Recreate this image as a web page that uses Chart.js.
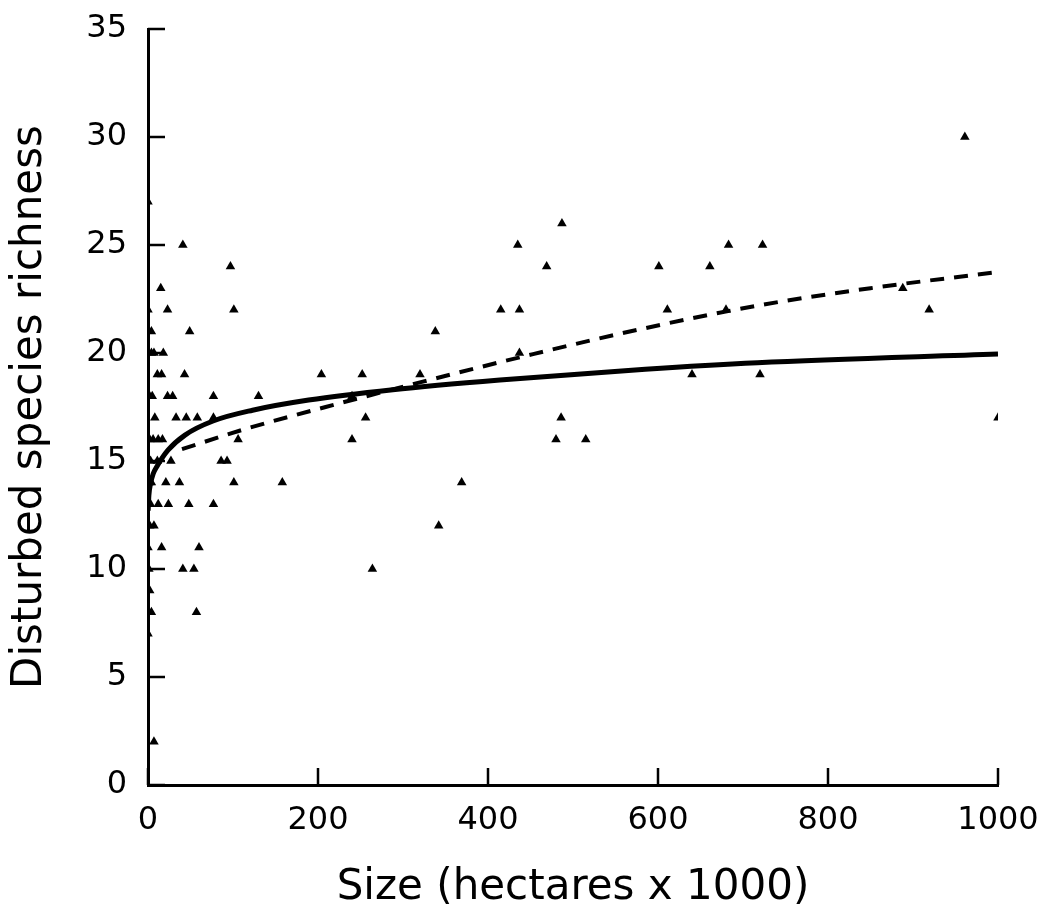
<!DOCTYPE html>
<html>
<head>
<meta charset="utf-8">
<script src="https://cdn.jsdelivr.net/npm/chart.js@4.4.1/dist/chart.umd.min.js"></script>
<style>
  html, body { margin: 0; padding: 0; background: #fff; }
  #wrap { width: 1048px; height: 916px; position: relative; }
</style>
</head>
<body>
<div id="wrap"><canvas id="chart"></canvas></div>
<script>
// ---------- data ----------
// observed sites: size (hectares x 1000) and disturbed species richness
const siteSize = [
  961,
  0,
  487,
  41, 435, 683, 723,
  97, 469, 601, 661,
  15, 888,
  0, 23, 101, 415, 437, 611, 680, 919,
  4, 49, 338,
  4, 7, 18, 437,
  11, 16, 43, 204, 252, 320, 640, 720,
  2, 5, 23, 29, 77, 130, 240,
  8, 33, 45, 58, 77, 256, 486, 1000,
  2, 6, 12, 17, 106, 240, 480, 515,
  3, 11, 27, 86, 93,
  2, 4, 21, 37, 101, 158, 369,
  0, 3, 12, 24, 48, 77,
  2, 7, 342,
  0, 16, 60,
  1, 41, 54, 264,
  2,
  4, 57,
  0,
  7,
];
const siteRichness = [
  30,
  27,
  26,
  25, 25, 25, 25,
  24, 24, 24, 24,
  23, 23,
  22, 22, 22, 22, 22, 22, 22, 22,
  21, 21, 21,
  20, 20, 20, 20,
  19, 19, 19, 19, 19, 19, 19, 19,
  18, 18, 18, 18, 18, 18, 18,
  17, 17, 17, 17, 17, 17, 17, 17,
  16, 16, 16, 16, 16, 16, 16, 16,
  15, 15, 15, 15, 15,
  14, 14, 14, 14, 14, 14, 14,
  13, 13, 13, 13, 13, 13,
  12, 12, 12,
  11, 11, 11,
  10, 10, 10, 10,
  9,
  8, 8,
  7,
  2,
];

// solid fitted curve
const solidX = [0.2, 1, 3, 6, 10.5, 23.5, 43.5, 76.5, 123, 189, 288, 414, 585, 717, 1000];
const solidY = [12.7, 13.4, 13.95, 14.4, 14.75, 15.5, 16.2, 16.85, 17.35, 17.82, 18.3, 18.75, 19.25, 19.55, 19.95];

// dashed fitted curve
const dashX = [40, 116, 209, 321, 453, 585, 718, 850, 1000];
const dashY = [15.55, 16.5, 17.5, 18.65, 19.95, 21.15, 22.2, 23.0, 23.75];

const xTicks = [0, 200, 400, 600, 800, 1000];
const yTicks = [0, 5, 10, 15, 20, 25, 30, 35];

// ---------- layout ----------
const PLOT_LEFT = 148, PLOT_BOTTOM = 785;
const FONT = "'DejaVu Sans', sans-serif";

const pts = (xs, ys) => xs.map((x, i) => ({ x, y: ys[i] }));

// inward tick marks on left and bottom axes
const inwardTicks = {
  id: "inwardTicks",
  afterDraw(chart) {
    const { ctx, scales: { x, y } } = chart;
    ctx.save();
    ctx.strokeStyle = "#000";
    ctx.lineWidth = 2.5;
    ctx.beginPath();
    yTicks.forEach((v) => {
      const py = y.getPixelForValue(v);
      ctx.moveTo(x.left, py);
      ctx.lineTo(x.left + 17, py);
    });
    xTicks.forEach((v) => {
      const px = x.getPixelForValue(v);
      ctx.moveTo(px, y.bottom);
      ctx.lineTo(px, y.bottom - 17);
    });
    ctx.stroke();
    ctx.restore();
  },
};

new Chart(document.getElementById("chart"), {
  type: "scatter",
  data: {
    datasets: [
      {
        label: "Sites",
        data: pts(siteSize, siteRichness),
        pointStyle: "triangle",
        pointRadius: 5.5,
        backgroundColor: "#000",
        borderColor: "#000",
        borderWidth: 0,
      },
      {
        label: "Fit 1",
        type: "line",
        data: pts(solidX, solidY),
        borderColor: "#000",
        borderWidth: 5,
        pointRadius: 0,
        cubicInterpolationMode: "monotone",
        fill: false,
      },
      {
        label: "Fit 2",
        type: "line",
        data: pts(dashX, dashY),
        borderColor: "#000",
        borderWidth: 4,
        borderDash: [14, 10],
        pointRadius: 0,
        cubicInterpolationMode: "monotone",
        fill: false,
      },
    ],
  },
  options: {
    responsive: true,
    maintainAspectRatio: false,
    animation: false,
    layout: { padding: { top: 29, right: 50, bottom: 0, left: 0 } },
    plugins: { legend: { display: false }, tooltip: { enabled: false } },
    scales: {
      x: {
        type: "linear",
        min: 0, max: 1000,
        afterFit: (s) => {
          s.height = 916 - PLOT_BOTTOM;
          s.paddingLeft = 0; s.paddingRight = 0;
        },
        afterBuildTicks: (s) => { s.ticks = xTicks.map((v) => ({ value: v })); },
        grid: { display: true, drawOnChartArea: false, drawTicks: false },
        border: { display: true, color: "#000", width: 3 },
        ticks: { color: "#000", padding: 16, font: { family: FONT, size: 32 }, callback: (v) => String(v) },
        title: {
          display: true,
          text: "Size (hectares x 1000)",
          color: "#000",
          font: { family: FONT, size: 42 },
          padding: { top: 0, bottom: 3 },
        },
      },
      y: {
        type: "linear",
        min: 0, max: 35,
        afterFit: (s) => {
          s.width = PLOT_LEFT;
          s.paddingTop = 0; s.paddingBottom = 0;
        },
        afterBuildTicks: (s) => { s.ticks = yTicks.map((v) => ({ value: v })); },
        grid: { display: true, drawOnChartArea: false, drawTicks: false },
        border: { display: true, color: "#000", width: 3 },
        ticks: { color: "#000", padding: 21, font: { family: FONT, size: 32 }, callback: (v) => String(v) },
        title: {
          display: true,
          text: "Disturbed species richness",
          color: "#000",
          font: { family: FONT, size: 42 },
          padding: { top: 5, bottom: 0 },
        },
      },
    },
  },
  plugins: [inwardTicks],
});
</script>
</body>
</html>
